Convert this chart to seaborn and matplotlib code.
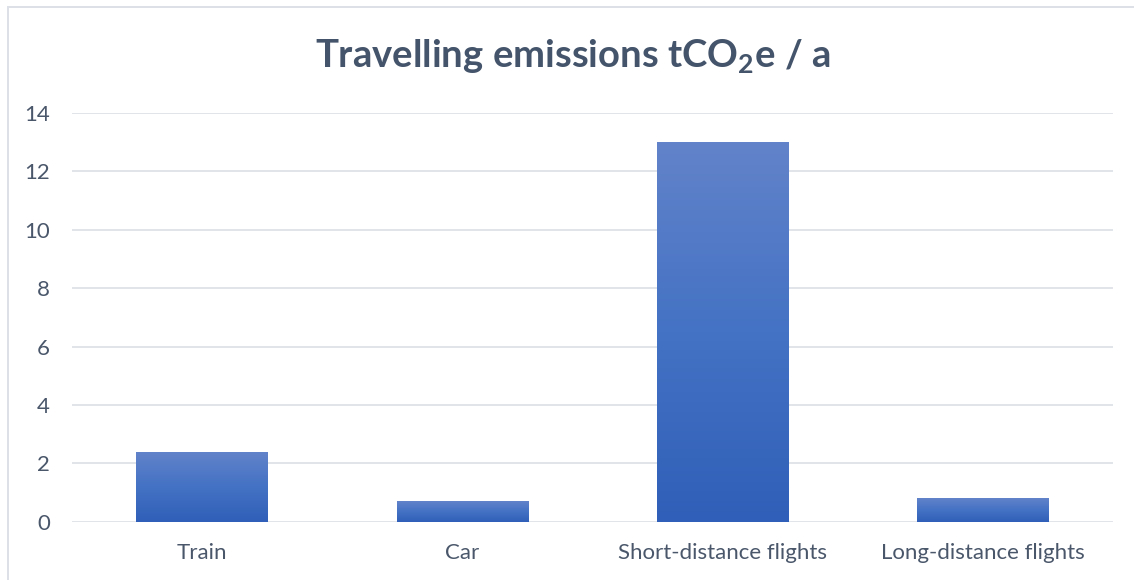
import numpy as np
import pandas as pd
import matplotlib
matplotlib.use("Agg")
import matplotlib.pyplot as plt
import seaborn as sns
from matplotlib.colors import LinearSegmentedColormap
from matplotlib.patches import Rectangle

categories = ["Train", "Car", "Short-distance flights", "Long-distance flights"]
emissions = [2.4, 0.7, 13.0, 0.8]
y_ticks = [0, 2, 4, 6, 8, 10, 12, 14]
title = r"Travelling emissions tCO$_2$e / a"

sns.set_theme(style="white")
plt.rcParams["font.family"] = ["Lato", "DejaVu Sans"]
plt.rcParams["mathtext.fontset"] = "custom"
plt.rcParams["mathtext.bf"] = "Lato:bold"
plt.rcParams["mathtext.rm"] = "Lato"
plt.rcParams["mathtext.default"] = "bf"

df = pd.DataFrame({"category": categories, "value": emissions})

W, H = 1134, 580
fig = plt.figure(figsize=(W / 100, H / 100), dpi=100)
ax = fig.add_axes([72 / W, 1 - 521.7 / H, (1113 - 72) / W, (521.7 - 113) / H])

sns.barplot(data=df, x="category", y="value", ax=ax, color="#4472C4",
            width=0.505, saturation=1, zorder=3)

ax.set_ylim(0, 14)
ax.set_yticks(y_ticks)
ax.set_xlabel("")
ax.set_ylabel("")
for s in ax.spines.values():
    s.set_visible(False)
ax.grid(axis="y", color="#E1E5EA", linewidth=1.4, zorder=0)
ax.grid(axis="x", visible=False)
ax.set_axisbelow(True)
tick_color = "#4A576B"
ax.tick_params(axis="y", length=0, pad=16, labelsize=16, labelcolor=tick_color)
ax.tick_params(axis="x", length=0, pad=15, labelsize=16, labelcolor=tick_color)

# gradient fill on each bar
cmap = LinearSegmentedColormap.from_list("g", ["#2F5FB8", "#4472C4", "#6283CA"])
grad = np.linspace(0, 1, 256).reshape(-1, 1)
for p in list(ax.patches):
    x0, y0 = p.get_x(), p.get_y()
    w, h = p.get_width(), p.get_height()
    im = ax.imshow(grad, cmap=cmap, origin="lower", aspect="auto",
                   extent=[x0, x0 + w, y0, y0 + h], zorder=3)
    im.set_clip_path(p)
    p.set_facecolor("none")
    p.set_edgecolor("none")
ax.set_xlim(-0.5, 3.5)
ax.set_ylim(0, 14)

fig.text(573 / W, 1 - 67 / H, title, ha="center", va="baseline",
         fontsize=27.5, fontweight="bold", color="#44546A")

# chart frame
fig.add_artist(Rectangle((7.5 / W, -0.1), 1.2, 1 - 6.5 / H + 0.1,
                         transform=fig.transFigure, fill=False,
                         edgecolor="#DDE1E7", linewidth=1.4))

fig.savefig("out.png", dpi=100)
